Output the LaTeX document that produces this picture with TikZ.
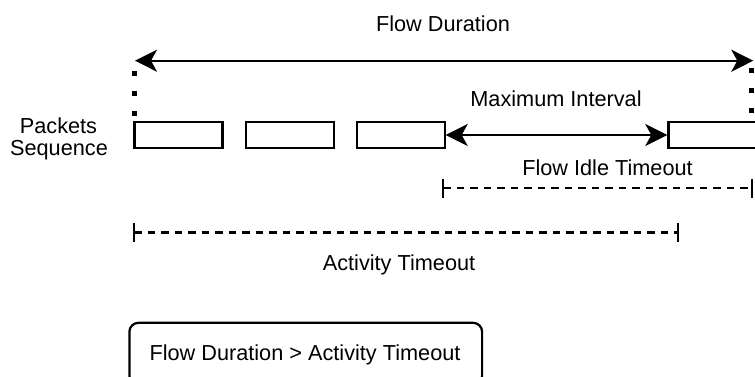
\documentclass[tikz,border=0pt]{standalone}
\usepackage{fontspec}
\setmainfont{Liberation Sans}
\usetikzlibrary{arrows.meta}
\begin{document}
\begin{tikzpicture}[x=1pt,y=-1pt,
  txt/.style={anchor=base,inner sep=0pt,text=black,font=\fontsize{21.7}{22}\selectfont},
  pkt/.style={draw,line width=2.2pt,minimum width=88pt,minimum height=26.5pt,inner sep=0pt,anchor=west},
  dbl/.style={line width=2.2pt,{Stealth[length=22pt,width=22pt,inset=6pt]}-{Stealth[length=22pt,width=22pt,inset=6pt]}},
  dotl/.style={line width=5pt,dash pattern=on 5pt off 15pt},
  dsh/.style={line width=2.2pt,dash pattern=on 7.5pt off 6pt},
  tick/.style={line width=2.2pt},
  note/.style={draw,line width=2.2pt,rounded corners=9pt,minimum width=352.7pt,minimum height=62pt,inner sep=0pt,anchor=north west}]
\clip (0,0) rectangle (755,376);
\fill[white] (0,0) rectangle (755,376);

% packets
\node[pkt] (p1) at (133.3,135) {};
\node[pkt] (p2) at (245,135) {};
\node[pkt] (p3) at (355.5,135) {};
\node[pkt] (p4) at (667.3,135) {};

% labels
\node[txt] (fd) at (443,31.7) {Flow Duration};
\node[txt] (pa) at (58.5,133) {Packets};
\node[txt] (sq) at (59,155) {Sequence};
\node[txt] (mi) at (556,106.7) {Maximum Interval};
\node[txt] (fit) at (607.5,175) {Flow Idle Timeout};
\node[txt] (at) at (399,270) {Activity Timeout};

% flow duration arrow
\coordinate (fdl) at (135,60.7);
\coordinate (fdr) at (753.3,60.7);
\draw[dbl] (fdl) -- (fdr);

% dotted guides
\coordinate (dl1) at (134,70.8);
\coordinate (dl2) at (134,115.5);
\coordinate (dr1) at (751.7,67.5);
\coordinate (dr2) at (751.7,112.5);
\draw[dotl] (dl1) -- (dl2);
\draw[dotl] (dr1) -- (dr2);

% maximum interval arrow
\draw[dbl] (p3.east) -- (p4.west);

% flow idle timeout
\coordinate (fi1) at (443.3,188.3);
\coordinate (fi2) at (751.7,188.3);
\draw[dsh] (fi1) -- (fi2);
\draw[tick] (fi1) ++(0,-9.5) -- ++(0,19);
\draw[tick] (fi2) ++(0,-9.5) -- ++(0,19);

% activity timeout
\coordinate (ac1) at (134,232.5);
\coordinate (ac2) at (678.3,232.5);
\draw[dsh] (ac1) -- (ac2);
\draw[tick] (ac1) ++(0,-9.5) -- ++(0,19);
\draw[tick] (ac2) ++(0,-9.5) -- ++(0,19);

% note box
\node[note] (nb) at (128.3,321.7) {};
\node[txt] (nt) at (305,360) {Flow Duration > Activity Timeout};
\end{tikzpicture}
\end{document}
